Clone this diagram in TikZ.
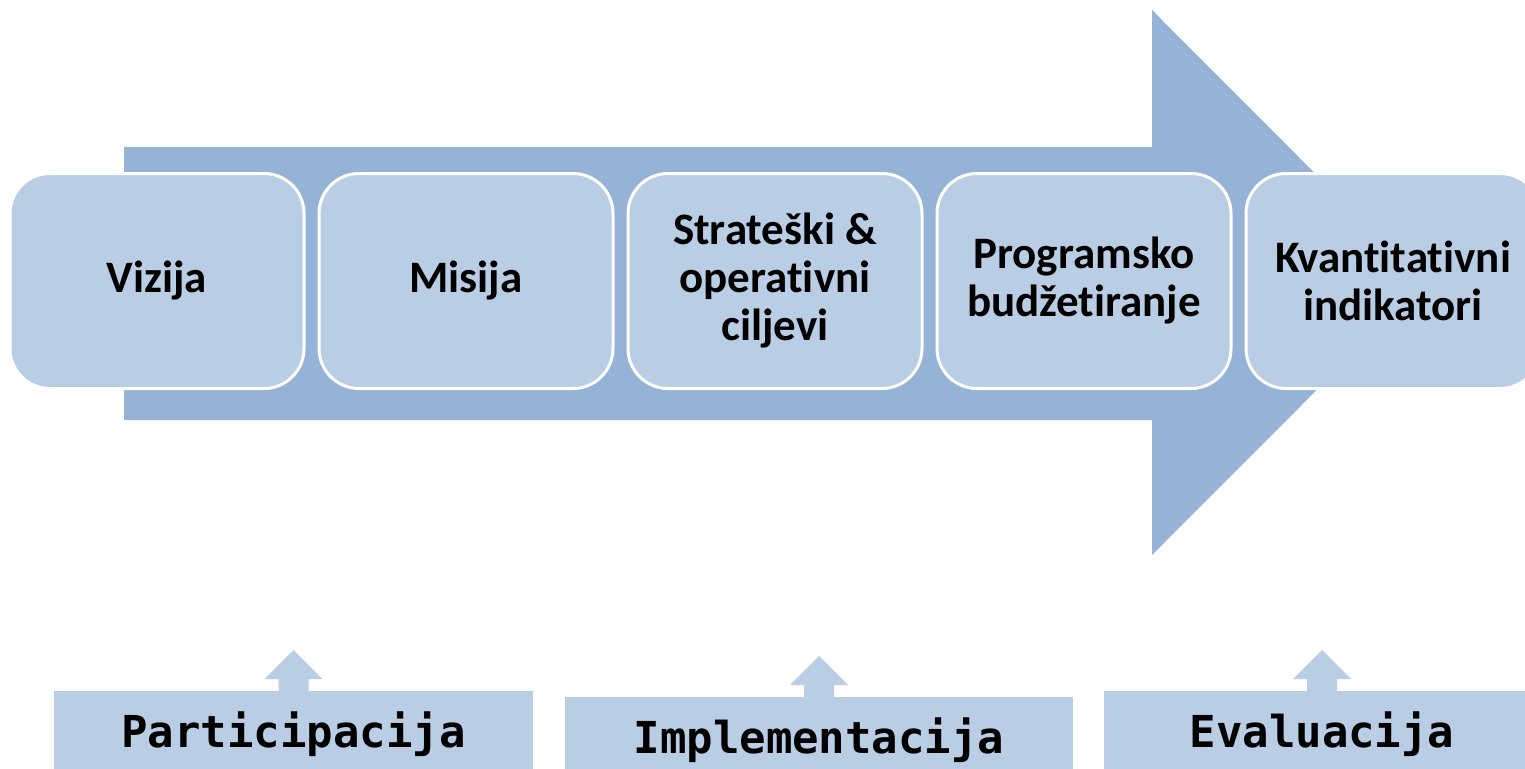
\documentclass[tikz,border=0pt]{standalone}
\usepackage{fontspec}
\setmainfont{Carlito}[Ligatures=NoCommon]
\newfontfamily\monofont{DejaVu Sans Mono}
\usepackage{tikz}
\usetikzlibrary{positioning}
\usetikzlibrary{calc}
\definecolor{arrowblue}{RGB}{149,179,215}
\definecolor{boxblue}{RGB}{185,205,229}
\tikzstyle{stage}=[rectangle,rounded corners=40pt,fill=boxblue,draw=white,line width=3pt,minimum width=294pt,minimum height=215pt,inner sep=0pt,align=center,font=\fontsize{45}{48}\selectfont\bfseries]
\tikzstyle{phase}=[rectangle,fill=boxblue,minimum height=85pt,inner sep=0pt,anchor=north,font=\fontsize{44}{50}\selectfont\monofont\bfseries]
\tikzstyle{uparrow}=[fill=boxblue]

\begin{document}
\begin{tikzpicture}[x=1pt,y=-1pt]
    \useasboundingbox (0,0) rectangle (1525,768);
    \clip (0,0) rectangle (1525,768);
    % Draw the big arrow
    \fill[arrowblue] (124,147) -- (1152,147) -- (1152,10) -- (1424,282.5) -- (1152,555) -- (1152,420) -- (124,420) -- cycle;

    % First we draw the stages
    \foreach \pos/\name/\label in {{(157,281)/vizija/Vizija}, {(466,281)/misija/Misija}, {(775,281)/ciljevi/{Strateški \&\\operativni\\ciljevi}}, {(1084,281)/budzet/{Programsko\\budžetiranje}}, {(1393,281)/indik/{Kvantitativni\\indikatori}}}
            \node[stage] (\name) at \pos {\label};

    % Then the phases below
    \foreach \pos/\name/\width/\label in {{(293.5,691)/partic/479/Participacija}, {(819,697)/implem/508/Implementacija}, {(1322,691)/evalu/436/Evaluacija}}
            \node[phase,minimum width=\width pt] (\name) at \pos {\label};

    % Small arrows on top of the phases
    \foreach \name in {partic, implem, evalu}
        \fill[uparrow] (\name.north) ++(-15,0) -- ++(0,-12) -- ++(-14,0) -- ++(29,-29) -- ++(29,29) -- ++(-14,0) -- ++(0,12) -- cycle;
\end{tikzpicture}
\end{document}
